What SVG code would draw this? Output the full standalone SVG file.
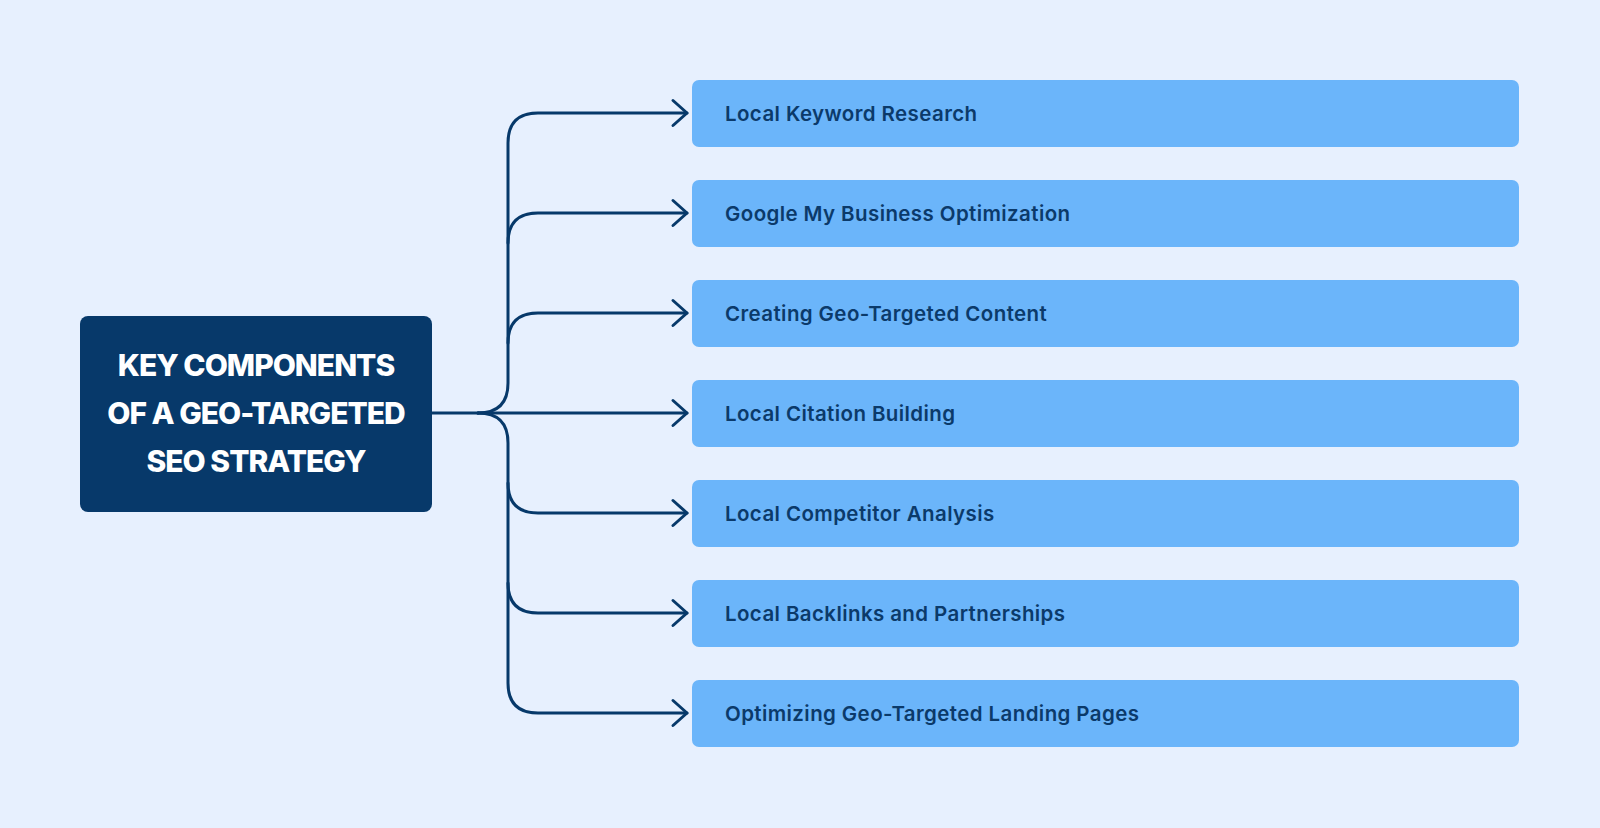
<svg xmlns="http://www.w3.org/2000/svg" width="1600" height="828" viewBox="0 0 1600 828">
<defs>
<style>
.bg{fill:#e7f0fe}
.main{fill:#07396a}
.title{font-family:Inter,"Liberation Sans",sans-serif;font-weight:800;font-size:30px;fill:#ffffff;text-anchor:middle;letter-spacing:-1px}
.box{fill:#6bb5fa}
.lbl{font-family:Inter,"Liberation Sans",sans-serif;font-weight:600;font-size:20.5px;fill:#0b3a6a;letter-spacing:0.4px}
.conn{fill:none;stroke:#07396a;stroke-width:3;stroke-linecap:round;stroke-linejoin:round}
</style>
</defs>
<rect class="bg" x="0" y="0" width="1600" height="828"/>
<g id="connectors">
<path class="conn" d="M432 413 H478"/>
<path class="conn" d="M478 413 Q508 413 508 383 V143 Q508 113 538 113 H687"/>
<path class="conn" d="M508 243 Q508 213 538 213 H687"/>
<path class="conn" d="M508 343 Q508 313 538 313 H687"/>
<path class="conn" d="M478 413 H687"/>
<path class="conn" d="M478 413 Q508 413 508 443 V683 Q508 713 538 713 H687"/>
<path class="conn" d="M508 483 Q508 513 538 513 H687"/>
<path class="conn" d="M508 583 Q508 613 538 613 H687"/>
<path class="conn" d="M673 100.5 L687 113 L673 125.5"/>
<path class="conn" d="M673 200.5 L687 213 L673 225.5"/>
<path class="conn" d="M673 300.5 L687 313 L673 325.5"/>
<path class="conn" d="M673 400.5 L687 413 L673 425.5"/>
<path class="conn" d="M673 500.5 L687 513 L673 525.5"/>
<path class="conn" d="M673 600.5 L687 613 L673 625.5"/>
<path class="conn" d="M673 700.5 L687 713 L673 725.5"/>
</g>
<g id="root">
<rect class="main" x="80" y="316" width="352" height="196" rx="8"/>
<text class="title" x="256" y="376">KEY COMPONENTS</text>
<text class="title" x="256" y="424">OF A GEO-TARGETED</text>
<text class="title" x="256" y="472">SEO STRATEGY</text>
</g>
<g id="n1"><rect class="box" x="692" y="80" width="827" height="67" rx="7"/><text class="lbl" x="725" y="120.5">Local Keyword Research</text></g>
<g id="n2"><rect class="box" x="692" y="180" width="827" height="67" rx="7"/><text class="lbl" x="725" y="220.5">Google My Business Optimization</text></g>
<g id="n3"><rect class="box" x="692" y="280" width="827" height="67" rx="7"/><text class="lbl" x="725" y="320.5">Creating Geo-Targeted Content</text></g>
<g id="n4"><rect class="box" x="692" y="380" width="827" height="67" rx="7"/><text class="lbl" x="725" y="420.5">Local Citation Building</text></g>
<g id="n5"><rect class="box" x="692" y="480" width="827" height="67" rx="7"/><text class="lbl" x="725" y="520.5">Local Competitor Analysis</text></g>
<g id="n6"><rect class="box" x="692" y="580" width="827" height="67" rx="7"/><text class="lbl" x="725" y="620.5">Local Backlinks and Partnerships</text></g>
<g id="n7"><rect class="box" x="692" y="680" width="827" height="67" rx="7"/><text class="lbl" x="725" y="720.5">Optimizing Geo-Targeted Landing Pages</text></g>
</svg>
